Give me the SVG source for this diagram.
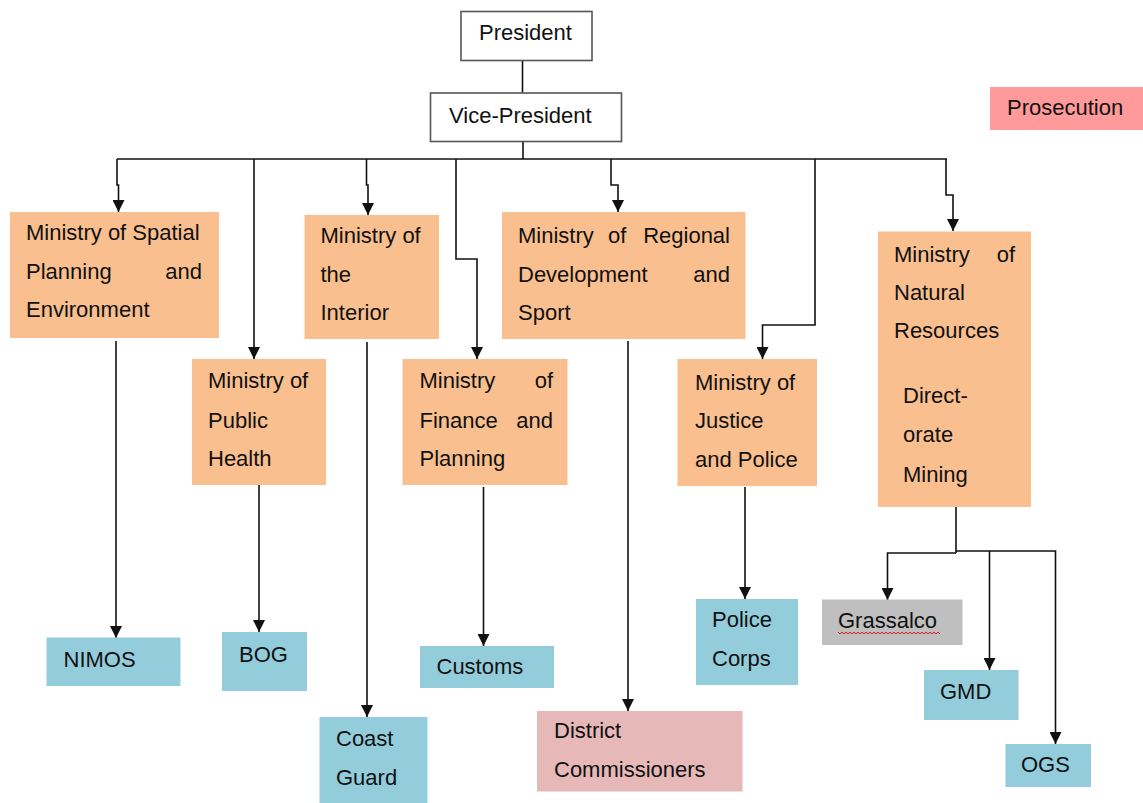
<svg xmlns="http://www.w3.org/2000/svg" width="1143" height="803" viewBox="0 0 1143 803">
<defs>
<marker id="arr" viewBox="0 0 12 12" refX="12" refY="6" markerWidth="12" markerHeight="12" markerUnits="userSpaceOnUse" orient="auto">
<path d="M0,0 L12,6 L0,12 z" fill="#111"/>
</marker>
<style>
text{font-family:"Liberation Sans",Arial,sans-serif;font-size:22px;fill:#111}
.e{text-anchor:end}
.top{fill:#fff;stroke:#555;stroke-width:1.6}
.min{fill:#F9BF8F}
.blue{fill:#93CDDC}
.pink{fill:#E6B8B8}
.pros{fill:#FF9A9A}
.grey{fill:#BFBFBF}
.c path{fill:none;stroke:#111;stroke-width:1.6}
.c path.a{marker-end:url(#arr)}
</style>
</defs>
<rect width="1143" height="803" fill="#fff"/>

<g class="c" id="connectors">
<path d="M522.5,61 V93"/>
<path d="M523,142 V159"/>
<path d="M117,159 H947"/>
<path class="a" d="M117,159 V185 H118.5 V212"/>
<path class="a" d="M254,159 V359"/>
<path class="a" d="M366.5,159 V185 H368 V215"/>
<path class="a" d="M456,159 V259 H477 V359"/>
<path class="a" d="M611,159 V185 H618 V212"/>
<path class="a" d="M815,159 V325 H762.5 V359"/>
<path class="a" d="M946,159 V195 H953 V231"/>
<path class="a" d="M116,341 V638"/>
<path class="a" d="M259,485 V632"/>
<path class="a" d="M367,342 V717"/>
<path class="a" d="M483.5,487 V646"/>
<path class="a" d="M628,341 V711"/>
<path class="a" d="M745,487 V599"/>
<path d="M956,507 V553"/>
<path class="a" d="M956,553 H887.5 V600"/>
<path class="a" d="M956,551 H1055.5 V744"/>
<path class="a" d="M989.5,551 V670"/>
</g>

<g id="president"><rect class="top" x="461" y="11.5" width="131" height="49"/><text x="479" y="40">President</text></g>
<g id="vice-president"><rect class="top" x="430.5" y="93" width="191" height="48.5"/><text x="449" y="123">Vice-President</text></g>
<g id="prosecution"><rect class="pros" x="990" y="87" width="153" height="43"/><text x="1007" y="115">Prosecution</text></g>

<g id="spatial"><rect class="min" x="10" y="212" width="209" height="126"/>
<text x="26" y="240">Ministry of Spatial</text>
<text x="26" y="279">Planning</text><text class="e" x="202" y="279">and</text>
<text x="26" y="317">Environment</text></g>

<g id="health"><rect class="min" x="192" y="359" width="134" height="126"/>
<text x="208" y="388">Ministry of</text><text x="208" y="428">Public</text><text x="208" y="466">Health</text></g>

<g id="interior"><rect class="min" x="304.5" y="215" width="134.5" height="124"/>
<text x="320.5" y="243">Ministry of</text><text x="320.5" y="282">the</text><text x="320.5" y="320">Interior</text></g>

<g id="regional"><rect class="min" x="502" y="212" width="243.5" height="127"/>
<text x="518" y="243">Ministry</text><text x="608" y="243">of</text><text class="e" x="730" y="243">Regional</text>
<text x="518" y="282">Development</text><text class="e" x="730" y="282">and</text>
<text x="518" y="320">Sport</text></g>

<g id="finance"><rect class="min" x="402.5" y="359" width="165" height="126"/>
<text x="419.5" y="388">Ministry</text><text class="e" x="553" y="388">of</text>
<text x="419.5" y="428">Finance</text><text class="e" x="553" y="428">and</text>
<text x="419.5" y="466">Planning</text></g>

<g id="justice"><rect class="min" x="677.5" y="359" width="139.5" height="127"/>
<text x="695" y="390">Ministry of</text><text x="695" y="428">Justice</text><text x="695" y="467">and Police</text></g>

<g id="natural"><rect class="min" x="878" y="231.5" width="153" height="275.5"/>
<text x="894" y="262">Ministry</text><text class="e" x="1015" y="262">of</text>
<text x="894" y="300">Natural</text><text x="894" y="338">Resources</text>
<text x="903" y="403">Direct-</text><text x="903" y="442">orate</text><text x="903" y="482">Mining</text></g>

<g id="nimos"><rect class="blue" x="46.5" y="637.5" width="134" height="48.5"/><text x="63.5" y="667">NIMOS</text></g>
<g id="bog"><rect class="blue" x="222" y="632" width="85" height="59"/><text x="239" y="662">BOG</text></g>
<g id="coastguard"><rect class="blue" x="319.5" y="717" width="108" height="86"/><text x="336" y="746">Coast</text><text x="336" y="785">Guard</text></g>
<g id="customs"><rect class="blue" x="420" y="646" width="134" height="42"/><text x="436.5" y="674">Customs</text></g>
<g id="district"><rect class="pink" x="537" y="711" width="205.5" height="80.5"/><text x="554" y="738">District</text><text x="554" y="777">Commissioners</text></g>
<g id="police"><rect class="blue" x="696" y="599" width="102" height="86"/><text x="712" y="627">Police</text><text x="712" y="666">Corps</text></g>
<g id="grassalco"><rect class="grey" x="822" y="599.5" width="140.5" height="45.5"/><text x="838" y="628">Grassalco</text>
<path d="M838,632 l2,2 l2,-2 l2,2 l2,-2 l2,2 l2,-2 l2,2 l2,-2 l2,2 l2,-2 l2,2 l2,-2 l2,2 l2,-2 l2,2 l2,-2 l2,2 l2,-2 l2,2 l2,-2 l2,2 l2,-2 l2,2 l2,-2 l2,2 l2,-2 l2,2 l2,-2 l2,2 l2,-2 l2,2 l2,-2 l2,2 l2,-2 l2,2 l2,-2 l2,2 l2,-2 l2,2 l2,-2 l2,2 l2,-2 l2,2 l2,-2 l2,2 l2,-2 l2,2 l2,-2 l2,2 l2,-2 l2,2" fill="none" stroke="#E02020" stroke-width="1"/></g>
<g id="gmd"><rect class="blue" x="924" y="670" width="94.5" height="50"/><text x="940" y="699">GMD</text></g>
<g id="ogs"><rect class="blue" x="1005.5" y="744" width="85.5" height="43"/><text x="1021" y="772">OGS</text></g>
</svg>
